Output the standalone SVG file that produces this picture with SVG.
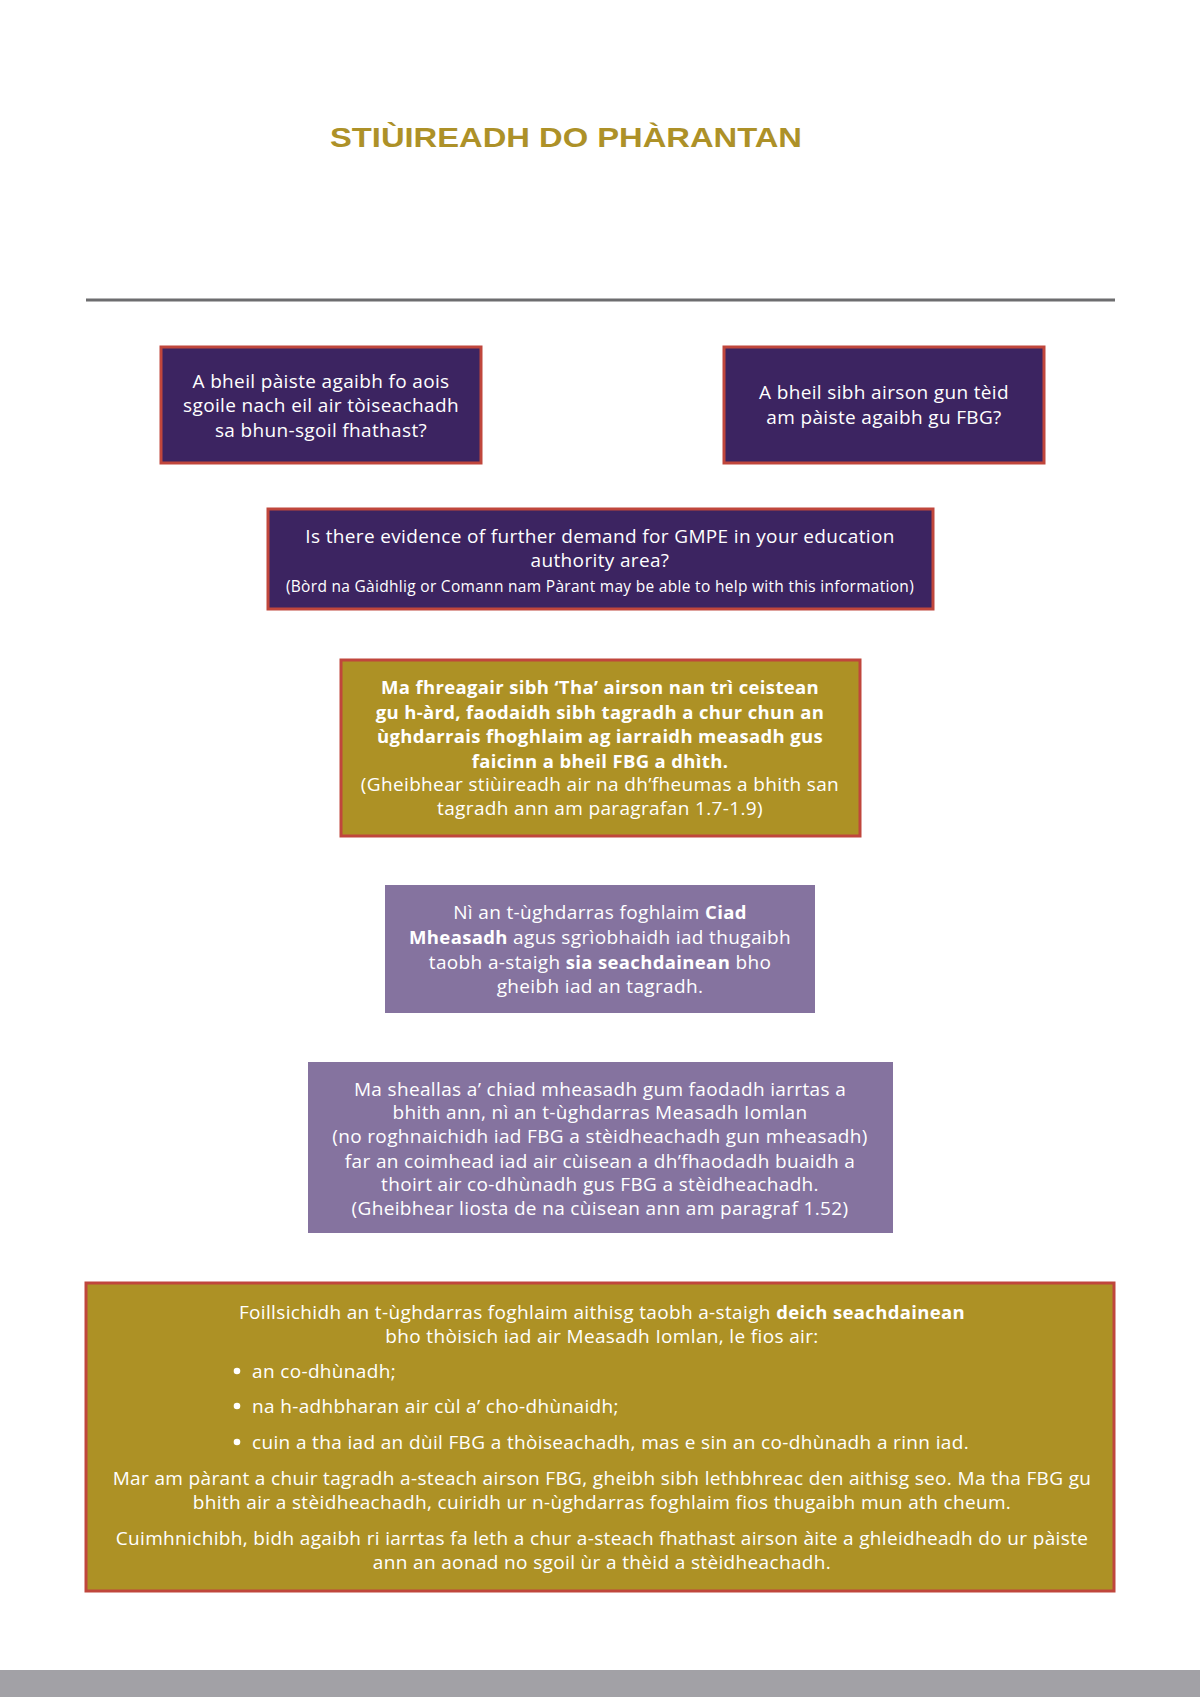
<svg xmlns="http://www.w3.org/2000/svg" width="1200" height="1697" viewBox="0 0 1200 1697">
<style>
text{font-family:"Open Sans","Liberation Sans",sans-serif;fill:#ffffff;text-anchor:middle;font-size:19px;letter-spacing:0.35px}
.b{font-weight:bold;font-size:18.5px}
.sm{font-size:15.5px;letter-spacing:0.3px}
.l{text-anchor:start}
.title{font-family:"Liberation Sans",sans-serif;font-weight:bold;font-size:28px;fill:#ad9128;text-anchor:start;letter-spacing:0}
.dark{fill:#3c2461;stroke:#c0463c;stroke-width:3}
.gold{fill:#ad9125;stroke:#c0463c;stroke-width:3}
.lilac{fill:#85739f}
.dot{fill:#ffffff}
</style>
<rect width="1200" height="1697" fill="#ffffff"/>
<g id="header">
<text class="title" x="330" y="147" textLength="472" lengthAdjust="spacingAndGlyphs">STIÙIREADH DO PHÀRANTAN</text>
<line x1="86" y1="300" x2="1115" y2="300" stroke="#6d6d6f" stroke-width="3"/>
</g>
<g id="connectors"></g>
<g id="q1">
<rect class="dark" x="161" y="347" width="320" height="116"/>
<text x="321" y="388">A bheil pàiste agaibh fo aois</text>
<text x="321" y="412">sgoile nach eil air tòiseachadh</text>
<text x="321" y="437">sa bhun-sgoil fhathast?</text>
</g>
<g id="q2">
<rect class="dark" x="724" y="347" width="320" height="116"/>
<text x="884" y="399">A bheil sibh airson gun tèid</text>
<text x="884" y="424">am pàiste agaibh gu FBG?</text>
</g>
<g id="q3">
<rect class="dark" x="268" y="509" width="665" height="100"/>
<text x="600" y="543">Is there evidence of further demand for GMPE in your education</text>
<text x="600" y="567">authority area?</text>
<text class="sm" x="600" y="592">(Bòrd na Gàidhlig or Comann nam Pàrant may be able to help with this information)</text>
</g>
<g id="apply">
<rect class="gold" x="341" y="660" width="519" height="176"/>
<text class="b" x="600" y="694">Ma fhreagair sibh ‘Tha’ airson nan trì ceistean</text>
<text class="b" x="600" y="719">gu h-àrd, faodaidh sibh tagradh a chur chun an</text>
<text class="b" x="600" y="743">ùghdarrais fhoghlaim ag iarraidh measadh gus</text>
<text class="b" x="600" y="768">faicinn a bheil FBG a dhìth.</text>
<text x="600" y="791">(Gheibhear stiùireadh air na dh’fheumas a bhith san</text>
<text x="600" y="815">tagradh ann am paragrafan 1.7-1.9)</text>
</g>
<g id="initial">
<rect class="lilac" x="385" y="885" width="430" height="128"/>
<text x="600" y="919">Nì an t-ùghdarras foghlaim <tspan class="b">Ciad</tspan></text>
<text x="600" y="944"><tspan class="b">Mheasadh</tspan> agus sgrìobhaidh iad thugaibh</text>
<text x="600" y="969">taobh a-staigh <tspan class="b">sia seachdainean</tspan> bho</text>
<text x="600" y="993">gheibh iad an tagradh.</text>
</g>
<g id="full">
<rect class="lilac" x="308" y="1062" width="585" height="171"/>
<text x="600" y="1096">Ma sheallas a’ chiad mheasadh gum faodadh iarrtas a</text>
<text x="600" y="1119">bhith ann, nì an t-ùghdarras Measadh Iomlan</text>
<text x="600" y="1143">(no roghnaichidh iad FBG a stèidheachadh gun mheasadh)</text>
<text x="600" y="1168">far an coimhead iad air cùisean a dh’fhaodadh buaidh a</text>
<text x="600" y="1191">thoirt air co-dhùnadh gus FBG a stèidheachadh.</text>
<text x="600" y="1215">(Gheibhear liosta de na cùisean ann am paragraf 1.52)</text>
</g>
<g id="report">
<rect class="gold" x="86" y="1283" width="1028" height="308"/>
<text x="602" y="1319">Foillsichidh an t-ùghdarras foghlaim aithisg taobh a-staigh <tspan class="b">deich seachdainean</tspan></text>
<text x="602" y="1343">bho thòisich iad air Measadh Iomlan, le fios air:</text>
<circle class="dot" cx="237" cy="1371" r="3.3"/>
<text class="l" x="252" y="1378">an co-dhùnadh;</text>
<circle class="dot" cx="237" cy="1406" r="3.3"/>
<text class="l" x="252" y="1413">na h-adhbharan air cùl a’ cho-dhùnaidh;</text>
<circle class="dot" cx="237" cy="1442" r="3.3"/>
<text class="l" x="252" y="1449">cuin a tha iad an dùil FBG a thòiseachadh, mas e sin an co-dhùnadh a rinn iad.</text>
<text x="602" y="1485">Mar am pàrant a chuir tagradh a-steach airson FBG, gheibh sibh lethbhreac den aithisg seo. Ma tha FBG gu</text>
<text x="602" y="1509">bhith air a stèidheachadh, cuiridh ur n-ùghdarras foghlaim fios thugaibh mun ath cheum.</text>
<text x="602" y="1545">Cuimhnichibh, bidh agaibh ri iarrtas fa leth a chur a-steach fhathast airson àite a ghleidheadh do ur pàiste</text>
<text x="602" y="1569">ann an aonad no sgoil ùr a thèid a stèidheachadh.</text>
</g>
<rect id="footer" x="0" y="1670" width="1200" height="27" fill="#a2a1a6"/>
</svg>
